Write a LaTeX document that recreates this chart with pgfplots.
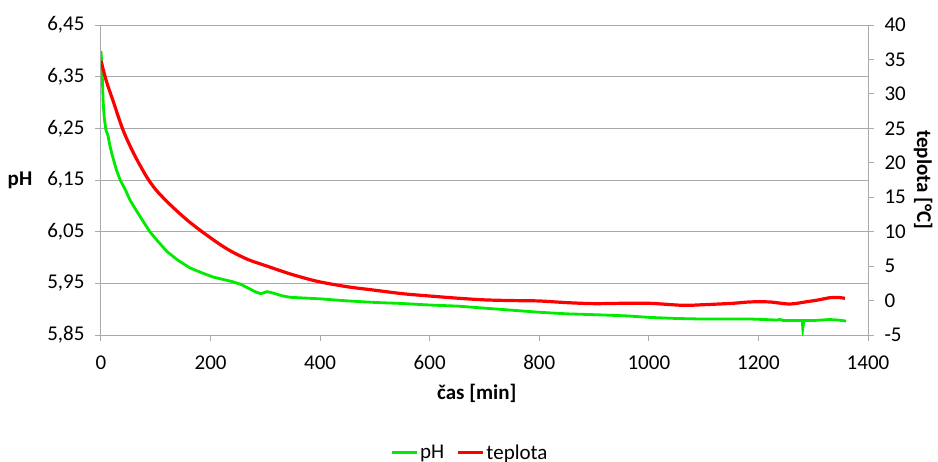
\documentclass[border=0pt]{standalone}
\usepackage{fontspec}
\setmainfont{Carlito}
\usepackage{pgfplots}
\pgfplotsset{compat=1.18}
\definecolor{grn}{RGB}{0,235,0}
\definecolor{rd}{RGB}{255,0,0}
\definecolor{gridc}{RGB}{170,170,170}
\begin{document}
\begin{tikzpicture}[font=\fontsize{21}{25}\selectfont]
\path[use as bounding box] (0,0) rectangle (938pt,-461pt);
\pgfplotsset{
  every axis/.append style={
    at={(101pt,-335pt)}, anchor=south west,
    scale only axis, width=767pt, height=310pt,
    xmin=0, xmax=1400,
    axis line style={gridc, line width=1pt},
    tick style={gridc, line width=1pt},
    major tick length=6pt, tick align=outside,
    /pgf/number format/assume math mode=true,
    /pgf/number format/1000 sep={},
  },
}
\begin{axis}[
  axis x line*=bottom, axis y line*=left,
  ymin=5.85, ymax=6.45,
  xtick={0,200,...,1400},
  ytick={5.85,5.95,6.05,6.15,6.25,6.35,6.45},
  ymajorgrids, grid style={gridc, line width=1pt},
  yticklabel style={xshift=-7pt, /pgf/number format/.cd, fixed, fixed zerofill, precision=2, use comma},
  xticklabel style={yshift=-11pt},
  xlabel={\textbf{čas [min]}}, ylabel={\textbf{pH}},
  every axis x label/.style={at={(axis description cs:0.49,-0.187)}, anchor=center},
  every axis y label/.style={at={(axis description cs:-0.085,0.5)}, anchor=east},
]
\addplot[grn, line width=2.8pt] coordinates {
(0,6.40) (2,6.36) (4,6.30) (6,6.27) (9,6.247) (13,6.235) (16,6.218) (20,6.20)
(28,6.17) (35,6.15) (45,6.13) (53,6.111) (65,6.09) (80,6.065) (89,6.05)
(105,6.03) (120,6.012) (140,5.995) (162,5.98) (185,5.97) (205,5.962)
(225,5.957) (241,5.953) (255,5.948) (270,5.94) (283,5.933) (292,5.930)
(298,5.932) (303,5.934) (315,5.931) (330,5.926) (345,5.923) (400,5.920)
(450,5.916) (500,5.913) (550,5.911) (600,5.908) (650,5.906) (700,5.902)
(750,5.898) (800,5.894) (850,5.891) (910,5.889) (960,5.887) (1002,5.884)
(1050,5.882) (1093,5.881) (1140,5.881) (1184,5.881) (1210,5.880) (1233,5.879)
(1240,5.880) (1245,5.878) (1270,5.878) (1280,5.878) (1281,5.863) (1283,5.878)
(1300,5.878) (1330,5.880) (1345,5.879) (1360,5.877)
};
\end{axis}
\begin{axis}[
  hide x axis,
  axis y line*=right,
  ymin=-5, ymax=40,
  ytick={-5,0,...,40},
  yticklabel style={xshift=7pt},
  ylabel={\textbf{teplota [°C]}},
  every axis y label/.style={at={(axis description cs:1.072,0.5)}, anchor=center, rotate=-90},
  legend style={at={(axis description cs:0.481,-0.38)}, anchor=center, draw=none, fill=none,
    legend columns=2, /tikz/every even column/.append style={column sep=10pt},
    legend cell align=left},
  legend image code/.code={\draw[#1] (0pt,0pt) -- (25pt,0pt);},
]
\addlegendimage{grn, line width=2.8pt}
\addlegendentry{pH}
\addplot[rd, line width=3.2pt, smooth, tension=0.5] coordinates {
(0,34.8) (10,31.8) (22,29.0) (40,24.8) (60,21.3) (83,18.0) (100,16.1)
(120,14.4) (140,12.9) (160,11.5) (181,10.2) (200,9.1) (220,8.0) (241,7.0)
(270,5.9) (303,5.0) (340,4.0) (370,3.3) (400,2.7) (450,2.0) (500,1.5)
(550,1.0) (600,0.66) (650,0.35) (700,0.1) (750,0.0) (800,-0.06) (850,-0.3)
(900,-0.45) (950,-0.4) (1002,-0.4) (1062,-0.69) (1100,-0.6) (1153,-0.4)
(1184,-0.2) (1220,-0.2) (1257,-0.5) (1288,-0.17) (1310,0.1) (1330,0.41)
(1345,0.45) (1358,0.33)
};
\addlegendentry{teplota}
\end{axis}
\end{tikzpicture}
\end{document}
